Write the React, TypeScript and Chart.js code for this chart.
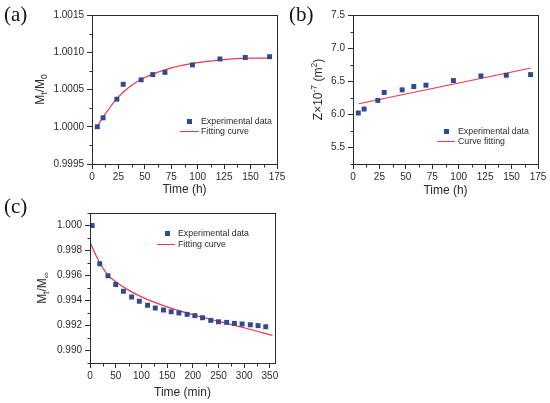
import { useEffect, useRef } from "react";
import { Chart, registerables } from "chart.js";

Chart.register(...registerables);

const SANS = '"Liberation Sans", Arial, sans-serif';
const INK = "#2a2a2a";
const BLUE = "#2d4b8d";
const RED = "#f0354f";

// sampling times shared by (a) and (b), hours
const hoursAB = [5, 10.5, 23.5, 29.5, 46.5, 57.5, 69, 95, 121, 145, 168];

// (a) Mt/M0
const massA = [1.0, 1.00012, 1.00037, 1.00057, 1.00063, 1.0007, 1.00073, 1.00083, 1.00091, 1.00093, 1.00094];
const fitHoursA = [5, 10, 15, 23, 30, 40, 50, 60, 75, 100, 125, 150, 168];
const fitMassA = [1.0, 1.00012, 1.00022, 1.00037, 1.00047, 1.00058, 1.00066, 1.00072, 1.00079, 1.00086, 1.0009, 1.00092, 1.00092];

// (b) Z x 10^-7 (m^2)
const zB = [6.02, 6.08, 6.21, 6.33, 6.37, 6.42, 6.44, 6.51, 6.58, 6.59, 6.6];
const fitHoursB = [5.5, 168.5];
const fitZB = [6.16, 6.7];

// (c) Mt/M∞ vs minutes
const minutesC = [4, 19, 35, 50, 65, 81, 96, 112, 127, 143, 158, 173, 189, 204, 219, 235, 250, 266, 281, 296, 312, 327, 342];
const massC = [
  1.0, 0.99694, 0.99598, 0.99528, 0.99474, 0.99428, 0.99394, 0.99362, 0.9934, 0.99324, 0.9931, 0.993,
  0.99289, 0.99279, 0.99262, 0.99241, 0.9923, 0.99225, 0.99217, 0.99212, 0.99206, 0.99199, 0.9919,
];
const fitMinutesC = [0, 10, 20, 35, 50, 75, 100, 150, 200, 250, 300, 355];
const fitMassC = [0.99866, 0.99775, 0.99694, 0.99603, 0.9955, 0.99483, 0.99429, 0.99349, 0.99287, 0.99233, 0.99182, 0.99121];

// tick labels
const hourTicks = [0, 25, 50, 75, 100, 125, 150, 175];
const massTicksA = [0.9995, 1.0, 1.0005, 1.001, 1.0015];
const zTicksB = [5.5, 6.0, 6.5, 7.0, 7.5];
const minuteTicks = [0, 50, 100, 150, 200, 250, 300, 350];
const massTicksC = [0.99, 0.992, 0.994, 0.996, 0.998, 1.0];

type Seg = { t: string; sub?: boolean; sup?: boolean };

interface Spec {
  left: number;
  top: number;
  width: number;
  height: number;
  area: [number, number, number, number]; // left, top, right, bottom inside the canvas
  xMin: number;
  xMax: number;
  xTicks: number[];
  xTitle: string;
  xTitlePad: number;
  yMin: number;
  yMax: number;
  yTicks: number[];
  yDigits: number;
  yTitle: Seg[];
  yTitleX: number;
  px: number[];
  py: number[];
  fx: number[];
  fy: number[];
  tension: number;
}

const panels: Spec[] = [
  {
    left: 0, top: 0, width: 290, height: 200, area: [92, 15, 277, 164],
    xMin: 0, xMax: 175, xTicks: hourTicks, xTitle: "Time (h)", xTitlePad: 3,
    yMin: 0.9995, yMax: 1.0015, yTicks: massTicksA, yDigits: 4,
    yTitle: [{ t: "M" }, { t: "t", sub: true }, { t: "/M" }, { t: "0", sub: true }], yTitleX: 40,
    px: hoursAB, py: massA, fx: fitHoursA, fy: fitMassA, tension: 0.4,
  },
  {
    left: 285, top: 0, width: 265, height: 200, area: [68, 15, 253, 164],
    xMin: 0, xMax: 175, xTicks: hourTicks, xTitle: "Time (h)", xTitlePad: 2,
    yMin: 5.25, yMax: 7.5, yTicks: zTicksB, yDigits: 1,
    yTitle: [{ t: "Z×10" }, { t: "-7", sup: true }, { t: " (m" }, { t: "2", sup: true }, { t: ")" }], yTitleX: 33,
    px: hoursAB, py: zB, fx: fitHoursB, fy: fitZB, tension: 0,
  },
  {
    left: 0, top: 200, width: 290, height: 203, area: [90, 13, 275, 163],
    xMin: 0, xMax: 360, xTicks: minuteTicks, xTitle: "Time (min)", xTitlePad: 3.5,
    yMin: 0.989, yMax: 1.001, yTicks: massTicksC, yDigits: 3,
    yTitle: [{ t: "M" }, { t: "t", sub: true }, { t: "/M" }, { t: "∞", sub: true }], yTitleX: 42,
    px: minutesC, py: massC, fx: fitMinutesC, fy: fitMassC, tension: 0.4,
  },
];

const legends = [
  { mx: 189, my: 121, lx: [180, 199], ly: 131, tx: 201, labels: ["Experimental data", "Fitting curve"] },
  { mx: 446, my: 131, lx: [437, 455], ly: 141, tx: 458, labels: ["Experimental data", "Curve fitting"] },
  { mx: 167, my: 233, lx: [157, 175], ly: 244, tx: 178, labels: ["Experimental data", "Fitting curve"] },
];

const letters = [
  { t: "(a)", x: 4, y: 4 },
  { t: "(b)", x: 289, y: 4 },
  { t: "(c)", x: 4, y: 196 },
];

function minorTicks(major: number[], min: number, max: number) {
  const step = major[1] - major[0];
  const out: number[] = [];
  major.forEach((v) => {
    [v - step / 2, v + step / 2].forEach((m) => {
      if (m >= min - 1e-9 && m <= max + 1e-9 && !out.some((o) => Math.abs(o - m) < step / 10)) out.push(m);
    });
  });
  return out;
}

function Panel({ s }: { s: Spec }) {
  const canvasRef = useRef<HTMLCanvasElement>(null);

  useEffect(() => {
    if (!canvasRef.current) return;
    const [al, at, ar, ab] = s.area;

    const decor = {
      id: "decor",
      afterDraw(chart: Chart) {
        const { ctx, chartArea: a } = chart;
        const x = chart.scales.x;
        const y = chart.scales.y;
        ctx.save();
        ctx.strokeStyle = INK;
        ctx.lineWidth = 1;
        const l = Math.round(a.left) + 0.5;
        const t = Math.round(a.top) + 0.5;
        const r = Math.round(a.right) + 0.5;
        const b = Math.round(a.bottom) + 0.5;
        ctx.strokeRect(l, t, r - l, b - t);

        ctx.beginPath();
        minorTicks(s.xTicks, s.xMin, s.xMax).forEach((m) => {
          const p = Math.round(x.getPixelForValue(m)) + 0.5;
          ctx.moveTo(p, b);
          ctx.lineTo(p, b + 3);
        });
        minorTicks(s.yTicks, s.yMin, s.yMax).forEach((m) => {
          const p = Math.round(y.getPixelForValue(m)) + 0.5;
          ctx.moveTo(l - 3, p);
          ctx.lineTo(l, p);
        });
        ctx.stroke();

        // y title with sub/superscripts
        const big = `12px ${SANS}`;
        const small = `8.5px ${SANS}`;
        const widths = s.yTitle.map((g) => {
          ctx.font = g.sub || g.sup ? small : big;
          return ctx.measureText(g.t).width;
        });
        const total = widths.reduce((p, w) => p + w, 0);
        ctx.translate(s.yTitleX, (a.top + a.bottom) / 2);
        ctx.rotate(-Math.PI / 2);
        ctx.fillStyle = INK;
        ctx.textBaseline = "alphabetic";
        ctx.textAlign = "left";
        let cx = -total / 2;
        s.yTitle.forEach((g, i) => {
          ctx.font = g.sub || g.sup ? small : big;
          const dy = g.sub ? 2.5 : g.sup ? -5 : 0;
          ctx.fillText(g.t, cx, 4 + dy);
          cx += widths[i];
        });
        ctx.restore();
      },
    };

    const chart = new Chart(canvasRef.current, {
      type: "scatter",
      data: {
        datasets: [
          {
            type: "line",
            data: s.fx.map((v, i) => ({ x: v, y: s.fy[i] })),
            borderColor: RED,
            borderWidth: 1.2,
            pointRadius: 0,
            tension: s.tension,
            cubicInterpolationMode: s.tension ? "monotone" : "default",
            fill: false,
            order: 2,
          },
          {
            type: "scatter",
            data: s.px.map((v, i) => ({ x: v, y: s.py[i] })),
            backgroundColor: BLUE,
            borderWidth: 0,
            pointStyle: "rect",
            pointRadius: 3.5,
            order: 1,
          },
        ],
      },
      options: {
        animation: false,
        responsive: false,
        layout: { padding: { left: 0, top: at, right: s.width - ar, bottom: 0 } },
        plugins: { legend: { display: false }, tooltip: { enabled: false } },
        scales: {
          x: {
            type: "linear",
            min: s.xMin,
            max: s.xMax,
            afterBuildTicks: (sc: any) => {
              sc.ticks = s.xTicks.map((v) => ({ value: v }));
            },
            afterFit: (sc: any) => {
              sc.height = s.height - ab;
              sc.paddingLeft = 0;
              sc.paddingRight = 0;
            },
            grid: { drawOnChartArea: false, drawTicks: true, tickLength: 5, color: INK },
            border: { display: true, color: INK },
            ticks: {
              font: { family: SANS, size: 10 },
              color: INK,
              padding: 2,
              maxRotation: 0,
              autoSkip: false,
              callback: (v: any) => String(v),
            },
            title: {
              display: true,
              text: s.xTitle,
              font: { family: SANS, size: 12 },
              color: INK,
              padding: { top: 0, bottom: s.xTitlePad },
            },
          },
          y: {
            type: "linear",
            min: s.yMin,
            max: s.yMax,
            afterBuildTicks: (sc: any) => {
              sc.ticks = s.yTicks.map((v) => ({ value: v }));
            },
            afterFit: (sc: any) => {
              sc.width = al;
              sc.paddingTop = 0;
              sc.paddingBottom = 0;
            },
            grid: { drawOnChartArea: false, drawTicks: true, tickLength: 5, color: INK },
            border: { display: true, color: INK },
            ticks: {
              font: { family: SANS, size: 10 },
              color: INK,
              padding: 3,
              autoSkip: false,
              callback: (v: any) => Number(v).toFixed(s.yDigits),
            },
          },
        },
      },
      plugins: [decor],
    });

    return () => chart.destroy();
  }, [s]);

  return (
    <canvas
      ref={canvasRef}
      width={s.width}
      height={s.height}
      style={{ position: "absolute", left: s.left, top: s.top, width: s.width, height: s.height }}
    />
  );
}

export default function App() {
  return (
    <div
      style={{
        position: "absolute",
        left: 0,
        top: 0,
        width: 550,
        height: 403,
        background: "#fff",
        overflow: "hidden",
        fontFamily: SANS,
      }}
    >
      {panels.map((s, i) => (
        <Panel key={i} s={s} />
      ))}
      {letters.map((l) => (
        <div
          key={l.t}
          style={{
            position: "absolute",
            left: l.x,
            top: l.y,
            fontFamily: '"Liberation Serif", "Times New Roman", serif',
            fontSize: 21,
            lineHeight: "21px",
            color: "#111",
          }}
        >
          {l.t}
        </div>
      ))}
      {legends.map((g, i) => (
        <div key={i}>
          <div style={{ position: "absolute", left: g.mx - 2.5, top: g.my - 2.5, width: 5, height: 5, background: BLUE }} />
          <div style={{ position: "absolute", left: g.lx[0], top: g.ly - 0.5, width: g.lx[1] - g.lx[0], height: 1, background: RED }} />
          {g.labels.map((t, j) => (
            <div
              key={t}
              style={{
                position: "absolute",
                left: g.tx,
                top: (j === 0 ? g.my : g.ly) - 5,
                fontSize: 8.8,
                lineHeight: "10px",
                color: INK,
                whiteSpace: "nowrap",
              }}
            >
              {t}
            </div>
          ))}
        </div>
      ))}
    </div>
  );
}
